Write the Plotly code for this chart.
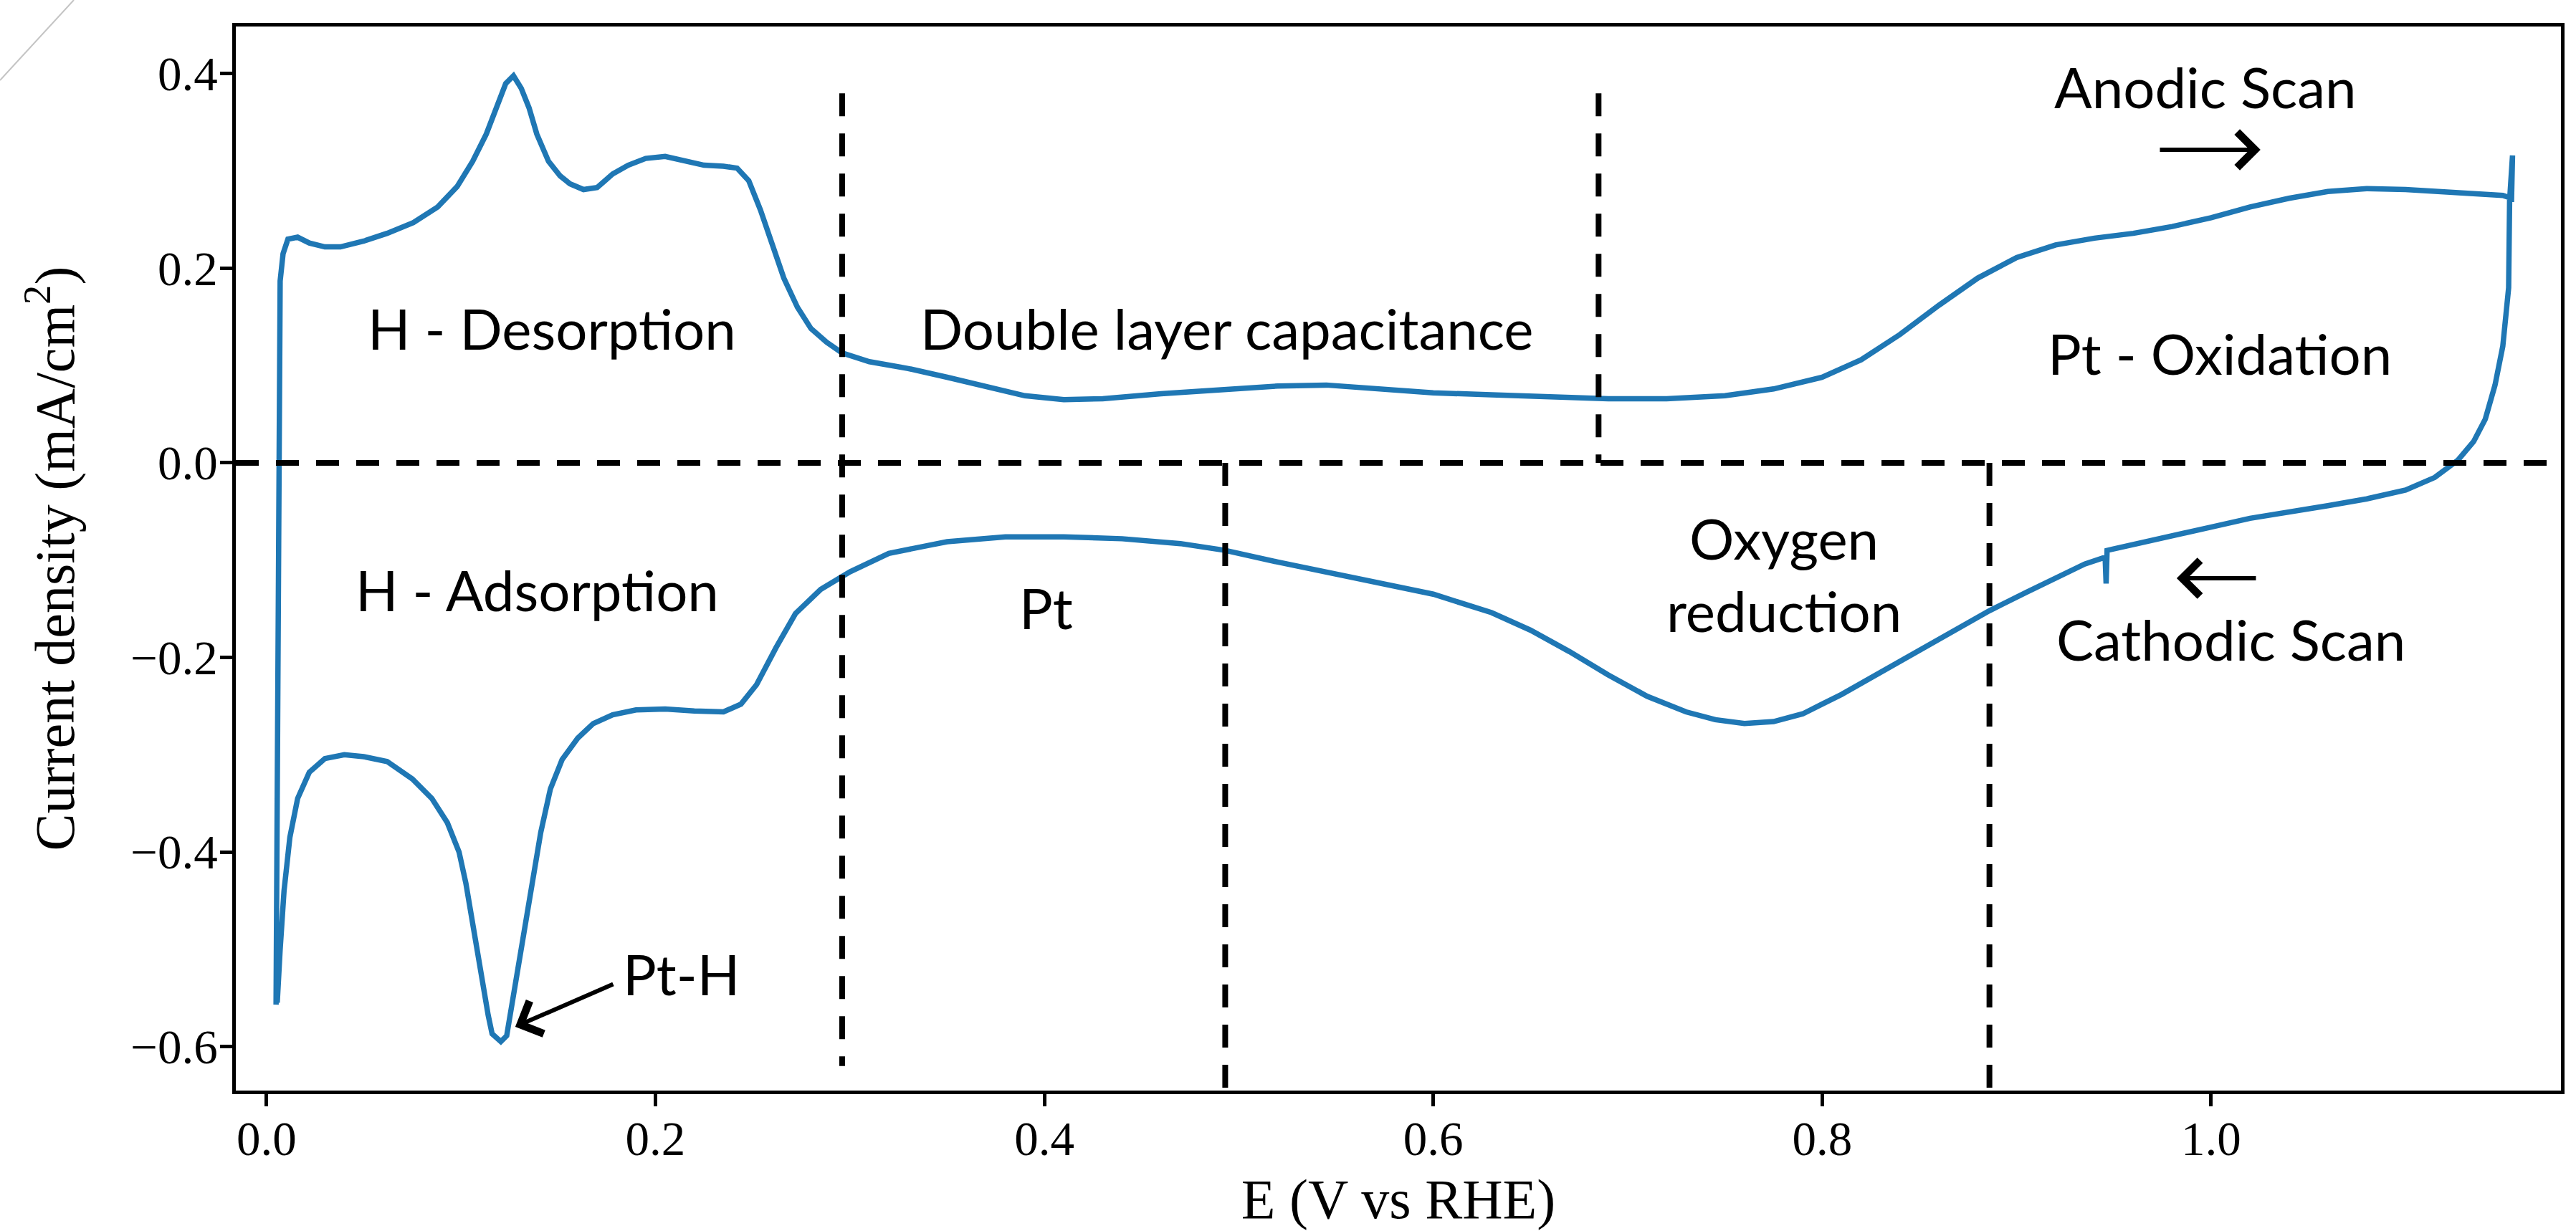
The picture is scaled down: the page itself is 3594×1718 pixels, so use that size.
import plotly.graph_objects as go

# ---------------- data ----------------
E_anodic = [0.0049, 0.0055, 0.0062, 0.0070, 0.0085, 0.011, 0.016, 0.022, 0.030, 0.038,
            0.050, 0.062, 0.0755, 0.088, 0.098, 0.106, 0.113, 0.119, 0.123, 0.127,
            0.131, 0.135, 0.139, 0.145, 0.151, 0.156, 0.163, 0.170, 0.178, 0.186,
            0.195, 0.205, 0.215, 0.225, 0.235, 0.242, 0.248, 0.254, 0.260, 0.266,
            0.273, 0.280, 0.288, 0.296, 0.310, 0.330, 0.350, 0.370, 0.390, 0.410,
            0.430, 0.460, 0.490, 0.520, 0.545, 0.570, 0.600, 0.630, 0.660, 0.690,
            0.720, 0.750, 0.775, 0.800, 0.820, 0.840, 0.860, 0.880, 0.900, 0.920,
            0.940, 0.960, 0.980, 1.000, 1.020, 1.040, 1.060, 1.080, 1.100, 1.120,
            1.140, 1.150, 1.1545, 1.155]
J_anodic = [-0.557, -0.300, 0.000, 0.187, 0.215, 0.230, 0.232, 0.226, 0.222, 0.222,
            0.228, 0.236, 0.247, 0.263, 0.284, 0.310, 0.338, 0.370, 0.390, 0.398,
            0.385, 0.365, 0.338, 0.310, 0.295, 0.287, 0.281, 0.283, 0.297, 0.306,
            0.313, 0.315, 0.311, 0.306, 0.305, 0.303, 0.290, 0.260, 0.225, 0.190,
            0.160, 0.138, 0.124, 0.113, 0.104, 0.097, 0.088, 0.078, 0.069, 0.065,
            0.066, 0.071, 0.075, 0.079, 0.080, 0.076, 0.072, 0.070, 0.068, 0.066,
            0.066, 0.069, 0.076, 0.088, 0.106, 0.132, 0.162, 0.190, 0.211, 0.224,
            0.231, 0.236, 0.243, 0.252, 0.263, 0.272, 0.279, 0.282, 0.281, 0.279,
            0.277, 0.275, 0.272, 0.316]

E_cathodic = [1.1535, 1.153, 1.150, 1.146, 1.141, 1.135, 1.127, 1.115, 1.100, 1.080,
              1.060, 1.040, 1.020, 1.000, 0.980, 0.960, 0.9465, 0.946, 0.9455, 0.935,
              0.920, 0.905, 0.886, 0.870, 0.850, 0.830, 0.810, 0.790, 0.775, 0.760,
              0.745, 0.730, 0.710, 0.690, 0.670, 0.650, 0.630, 0.600, 0.570, 0.545,
              0.520, 0.493, 0.470, 0.440, 0.410, 0.380, 0.350, 0.320, 0.300, 0.285,
              0.272, 0.262, 0.252, 0.244, 0.235, 0.220, 0.205, 0.190, 0.178, 0.168,
              0.160, 0.152, 0.146, 0.141, 0.138, 0.134, 0.130, 0.125, 0.1235, 0.1205,
              0.116, 0.114, 0.110, 0.105, 0.1025, 0.099, 0.093, 0.085, 0.075, 0.062,
              0.050, 0.040, 0.030, 0.022, 0.016, 0.012, 0.009, 0.007, 0.0055]
J_cathodic = [0.270, 0.180, 0.120, 0.080, 0.045, 0.022, 0.003, -0.015, -0.028, -0.037,
              -0.044, -0.051, -0.057, -0.066, -0.075, -0.085, -0.090, -0.124, -0.097, -0.104,
              -0.118, -0.133, -0.152, -0.170, -0.192, -0.215, -0.238, -0.258, -0.266, -0.268,
              -0.264, -0.256, -0.240, -0.218, -0.194, -0.172, -0.154, -0.135, -0.123, -0.113,
              -0.102, -0.090, -0.083, -0.078, -0.076, -0.076, -0.081, -0.093, -0.112, -0.130,
              -0.155, -0.190, -0.228, -0.248, -0.256, -0.255, -0.253, -0.254, -0.259, -0.268,
              -0.283, -0.305, -0.335, -0.380, -0.415, -0.462, -0.510, -0.565, -0.589, -0.595,
              -0.587, -0.568, -0.520, -0.462, -0.432, -0.400, -0.370, -0.345, -0.325, -0.307,
              -0.302, -0.300, -0.304, -0.318, -0.345, -0.385, -0.440, -0.500, -0.555]

# region boundaries (vertical dashed lines)
vline_x = [0.296, 0.685, 0.493, 0.886]
vline_y0 = [-0.62, 0.0, -0.6453, -0.6453]
vline_y1 = [0.38, 0.38, 0.0, 0.0]

x_range = [-0.0158, 1.1799]
y_range = [-0.6453, 0.4486]
x_ticks = [0.0, 0.2, 0.4, 0.6, 0.8, 1.0]
y_ticks = [-0.6, -0.4, -0.2, 0.0, 0.2, 0.4]

region_labels = ["H - Desorption", "Double layer capacitance", "Pt - Oxidation",
                 "Anodic Scan", "H - Adsorption", "Pt", "Oxygen<br>reduction",
                 "Cathodic Scan", "Pt-H"]
label_x = [0.1467, 0.4939, 1.0044, 0.997, 0.1393, 0.401, 0.7803, 1.0103, 0.2134]
label_y = [0.1385, 0.1385, 0.1127, 0.3867, -0.1304, -0.1488, -0.1142, -0.1812, -0.5252]

# arrows: (tail_x, tail_y, tip_x, tip_y)
arrow_tail_x = [0.9731, 1.0236, 0.1788]
arrow_tail_y = [0.3219, -0.1186, -0.5355]
arrow_tip_x = [1.0254, 0.9823, 0.1279]
arrow_tip_y = [0.3219, -0.1186, -0.5797]

# ---------------- figure ----------------
BLUE = "#1f77b4"
SERIF = "Liberation Serif, DejaVu Serif, serif"
SANS = "Lato, Open Sans, sans-serif"

fig = go.Figure()

fig.add_trace(go.Scatter(x=E_anodic + E_cathodic, y=J_anodic + J_cathodic,
                         mode="lines", line=dict(color=BLUE, width=7.5),
                         showlegend=False, hoverinfo="skip"))

# horizontal zero line
fig.add_trace(go.Scatter(x=x_range, y=[0, 0], mode="lines",
                         line=dict(color="black", width=8, dash="32px,24px"),
                         showlegend=False, hoverinfo="skip"))

for xv, y0, y1 in zip(vline_x, vline_y0, vline_y1):
    fig.add_trace(go.Scatter(x=[xv, xv], y=[y1, y0], mode="lines",
                             line=dict(color="black", width=8, dash="32px,24px"),
                             showlegend=False, hoverinfo="skip"))

for txt, lx, ly in zip(region_labels, label_x, label_y):
    fig.add_annotation(x=lx, y=ly, xref="x", yref="y", text=txt, showarrow=False,
                       font=dict(family=SANS, size=78, color="black"),
                       xanchor="center", yanchor="middle", align="center")

for tx, ty, hx, hy in zip(arrow_tail_x, arrow_tail_y, arrow_tip_x, arrow_tip_y):
    fig.add_annotation(x=hx, y=hy, ax=tx, ay=ty, xref="x", yref="y", axref="x", ayref="y",
                       text="", showarrow=True, arrowhead=4, arrowsize=1.6,
                       arrowwidth=6, arrowcolor="black")

# stray diagonal line at top-left corner
fig.add_shape(type="line", xref="paper", yref="paper",
              x0=(103 - 329) / 3244, y0=(1522 - 0) / 1485,
              x1=(0 - 329) / 3244, y1=(1522 - 112) / 1485,
              line=dict(color="#c4c4c4", width=2))

axis_common = dict(showline=True, linecolor="black", linewidth=4.5, mirror=True,
                   ticks="outside", ticklen=17, tickwidth=4.5, tickcolor="black",
                   showgrid=False, zeroline=False,
                   tickfont=dict(family=SERIF, size=67, color="black"))

fig.update_xaxes(range=x_range, tickvals=x_ticks, ticktext=[f"{v:.1f}" for v in x_ticks],
                 ticklabelstandoff=-12,
                 title=dict(text="E (V vs RHE)", font=dict(family=SERIF, size=78, color="black"),
                            standoff=22),
                 **axis_common)
fig.update_yaxes(range=y_range, tickvals=y_ticks,
                 ticktext=[(f"{v:.1f}" if v >= 0 else "\u2212" + f"{abs(v):.1f}") for v in y_ticks],
                 ticklabelstandoff=-10,
                 title=dict(text="Current density (mA/cm<sup>2</sup>)",
                            font=dict(family=SERIF, size=78, color="black"), standoff=55),
                 **axis_common)

fig.update_layout(width=3594, height=1718, paper_bgcolor="white", plot_bgcolor="white",
                  margin=dict(l=329, r=21, t=37, b=196), showlegend=False)

fig.write_html("out.html")
